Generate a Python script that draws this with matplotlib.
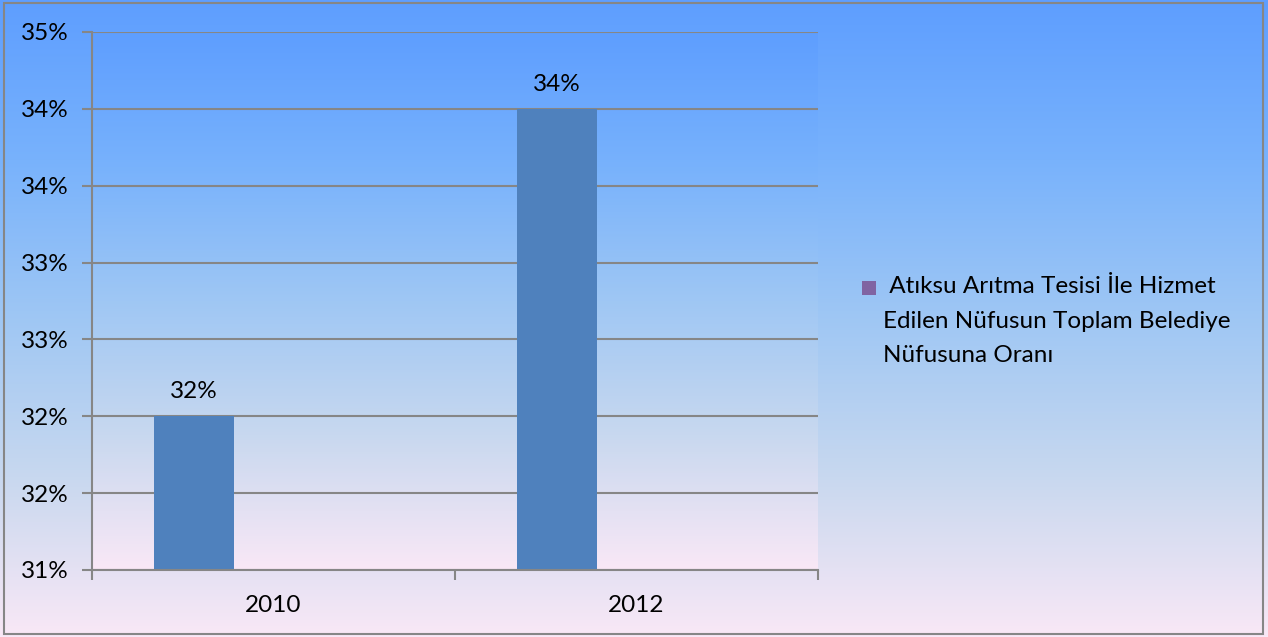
"""bar chart: atiksu aritma tesisi hizmet orani"""
import numpy as np
import matplotlib
matplotlib.use("Agg")
import matplotlib.pyplot as plt
from matplotlib.colors import LinearSegmentedColormap
from matplotlib.patches import Rectangle
from matplotlib.ticker import FuncFormatter, MultipleLocator

years = ["2010", "2012"]
oran = [0.32, 0.34]
seri_adi = [" Atıksu Arıtma Tesisi İle Hizmet", "Edilen Nüfusun Toplam Belediye", "Nüfusuna Oranı"]

plt.rcParams["font.family"] = ["Lato", "DejaVu Sans"]
FS = 17.5

# mavi -> pembe gradyan (Excel tarzı arka plan)
grad = LinearSegmentedColormap.from_list(
    "gok", [(0.0, "#5e9eff"), (0.25, "#78b2fc"), (0.5, "#9fc7f4"),
            (0.75, "#c8d8ef"), (1.0, "#f9e8f6")])
g = np.linspace(0, 1, 256).reshape(-1, 1)

fig = plt.figure(figsize=(12.68, 6.37), dpi=100)

# grafik alanı arka planı
bg = fig.add_axes([0, 0, 1, 1], zorder=-10)
bg.imshow(g, cmap=grad, aspect="auto", extent=[0, 1, 0, 1])
bg.set_axis_off()
fig.patches.append(Rectangle((0.003, 0.004), 0.993, 0.991, transform=fig.transFigure,
                             fill=False, edgecolor="#868686", linewidth=1.5))

ax = fig.add_axes([92 / 1268, 1 - 570 / 637, (818 - 92) / 1268, (570 - 32) / 637])
ax.patch.set_visible(False)
# çizim alanı için kendi gradyanı
ax.imshow(g, cmap=grad, aspect="auto", extent=[0, 2, 0.31, 0.345], zorder=0)

x = np.arange(len(years)) + 0.5
bar_w = 0.22
ax.bar(x - bar_w, oran, width=bar_w, bottom=0, color="#4f81bd", zorder=3)
for xi, v in zip(x - bar_w, oran):
    ax.annotate(f"{v * 100:.0f}%", (xi, v), xytext=(0, 10), textcoords="offset points",
                ha="center", va="bottom", fontsize=FS)

ax.set_xlim(0, 2)
ax.set_ylim(0.31, 0.345)
ax.yaxis.set_major_locator(MultipleLocator(0.005))
ax.yaxis.set_major_formatter(FuncFormatter(lambda v, p: f"{int(np.floor(v * 100 + 0.5 + 1e-9))}%"))
ax.set_xticks([0, 1, 2])
ax.set_xticklabels([])
ax.set_xticks(x, minor=True)
ax.set_xticklabels(years, minor=True)
ax.tick_params(axis="x", which="minor", length=0, pad=18, labelsize=FS)
ax.tick_params(axis="x", which="major", length=7, color="#868686", width=1.5)
ax.tick_params(axis="y", length=7, color="#868686", width=1.5, labelsize=FS, pad=10)
ax.grid(axis="y", color="#868686", linewidth=1.5, zorder=1)
ax.set_axisbelow(True)
for s in ["top", "right"]:
    ax.spines[s].set_visible(False)
for s in ["left", "bottom"]:
    ax.spines[s].set_color("#868686")
    ax.spines[s].set_linewidth(1.5)
    ax.spines[s].set_zorder(4)

# lejant: işaret kutusu ve üç satırlık seri adı
fig.patches.append(Rectangle((862 / 1268, 1 - 295 / 637), 14 / 1268, 14 / 637,
                             transform=fig.transFigure, facecolor="#8064a2", edgecolor="none"))
for i, satir in enumerate(seri_adi):
    fig.text(883 / 1268, 1 - (287 + 34 * i) / 637, satir, fontsize=FS,
             ha="left", va="center")

fig.savefig("out.png", dpi=100)
